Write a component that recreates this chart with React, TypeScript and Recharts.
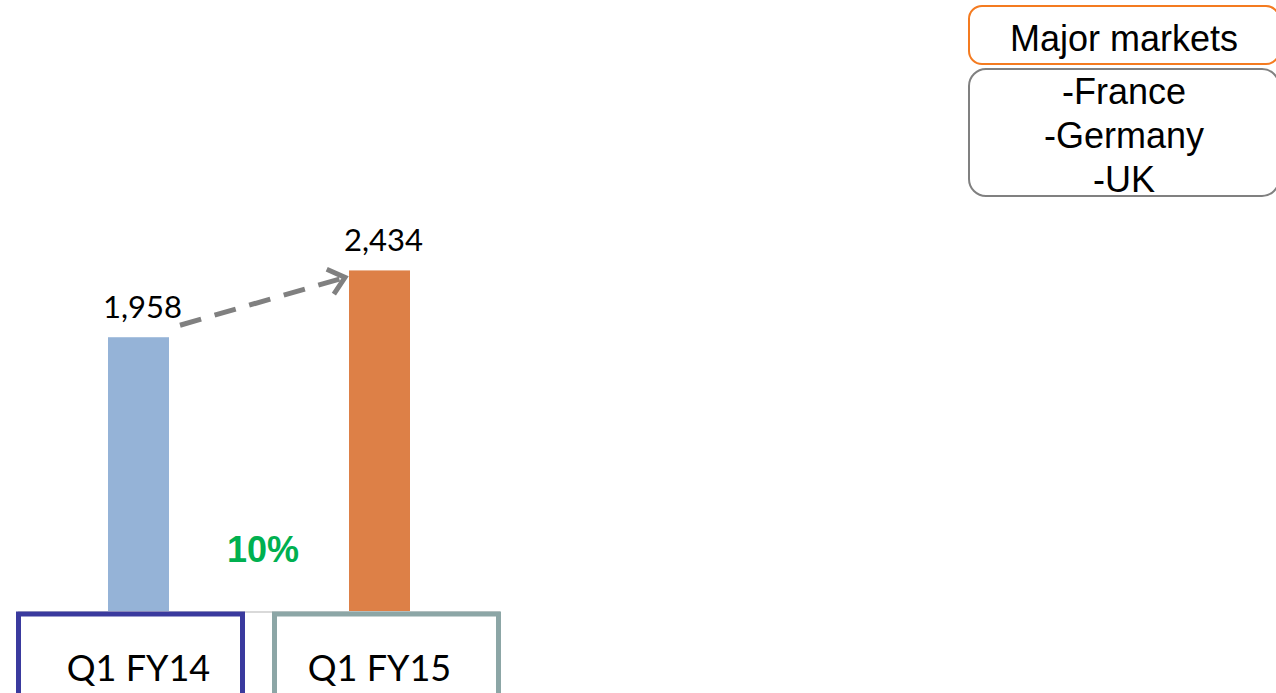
import React from "react";
import { Bar, BarChart, LabelList, XAxis, YAxis } from "recharts";

const categories = ["Q1 FY14", "Q1 FY15"];
const revenue = [1958, 2434];
const barColors = ["#95B3D7", "#DD8047"];
const boxColors = ["#3A3A9E", "#8CA6A6"];
const growthLabel = "10%";
const marketsTitle = "Major markets";
const markets = ["-France", "-Germany", "-UK"];

const rows = categories.map((name, i) => ({ name, value: revenue[i] }));

const W = 1276;
const H = 693;
const MARGIN = { top: 191, right: 776, bottom: 0, left: 18 };
const STEP = (W - MARGIN.left - MARGIN.right) / categories.length;
const CALIBRI = "Lato, 'Open Sans', sans-serif";
const ARIAL = "'Liberation Sans', Arial, sans-serif";

function fmt(v: number) {
  return v.toLocaleString("en-US");
}

function BarWithArrow(props: any) {
  const { x, y, width, height, index } = props;
  const rect = <rect x={x} y={y} width={width} height={height} fill={barColors[index]} />;
  if (index !== 1) return rect;

  // arrow from the top of the previous bar to this one
  const k = height / revenue[1];
  const base = y + height;
  const prevTop = base - revenue[0] * k;
  const prevRight = x - STEP + width;
  const x1 = prevRight + 11;
  const y1 = prevTop - 12;
  const tx = x - 4;
  const ty = y + 7;
  const ang = Math.atan2(ty - y1, tx - x1);
  const arm = 20;
  const a1 = ang + Math.PI - 0.7;
  const a2 = ang + Math.PI + 0.7;
  const lx = tx - Math.cos(ang) * 3;
  const ly = ty - Math.sin(ang) * 3;
  return (
    <g>
      {rect}
      <line x1={x1} y1={y1} x2={lx} y2={ly} stroke="#808080" strokeWidth={5} strokeDasharray="22 14" />
      <polyline
        points={`${tx + Math.cos(a1) * arm},${ty + Math.sin(a1) * arm} ${tx},${ty} ${tx + Math.cos(a2) * arm},${ty + Math.sin(a2) * arm}`}
        fill="none"
        stroke="#808080"
        strokeWidth={5}
        strokeLinejoin="miter"
      />
    </g>
  );
}

function ValueLabel(props: any) {
  const { x, y, width, value } = props;
  return (
    <text x={x + width / 2 + 4} y={y - 19} textAnchor="middle" fontFamily={CALIBRI} fontSize={31} fill="#000">
      {fmt(value)}
    </text>
  );
}

function CategoryTick(props: any) {
  const { x, y, payload, index } = props;
  const boxShift = index === 0 ? -8 : 7;
  const bw = 224;
  return (
    <g>
      <rect
        x={x + boxShift - bw / 2}
        y={y + 2}
        width={bw}
        height={100}
        fill="#fff"
        stroke={boxColors[index]}
        strokeWidth={5}
      />
      <text x={x} y={y + 69} textAnchor="middle" fontFamily={CALIBRI} fontSize={36} fill="#000">
        {payload.value}
      </text>
    </g>
  );
}

export default function App() {
  return (
    <div style={{ position: "fixed", left: 0, top: 0, width: W, height: H, overflow: "hidden", background: "#fff" }}>
      <BarChart width={W} height={H} data={rows} margin={MARGIN} barSize={61}>
        <XAxis
          dataKey="name"
          height={81}
          axisLine={{ stroke: "#D9D9D9", strokeWidth: 2 }}
          tickLine={false}
          tickSize={0}
          tickMargin={0}
          tick={<CategoryTick />}
          interval={0}
        />
        <YAxis hide domain={[0, 3000]} />
        <Bar dataKey="value" isAnimationActive={false} shape={<BarWithArrow />}>
          <LabelList dataKey="value" content={<ValueLabel />} />
        </Bar>
      </BarChart>
      <div
        style={{
          position: "absolute",
          left: 226,
          top: 528,
          width: 74,
          textAlign: "center",
          fontFamily: ARIAL,
          fontWeight: "bold",
          fontSize: 36,
          lineHeight: "44px",
          color: "#00B050",
        }}
      >
        {growthLabel}
      </div>
      <div
        style={{
          position: "absolute",
          left: 968,
          top: 5,
          width: 312,
          height: 60,
          border: "2.5px solid #F47B20",
          borderRadius: 14,
          fontFamily: ARIAL,
          fontSize: 36,
          lineHeight: "44px",
          textAlign: "center",
          paddingTop: 10,
          boxSizing: "border-box",
          color: "#000",
        }}
      >
        {marketsTitle}
      </div>
      <div
        style={{
          position: "absolute",
          left: 968,
          top: 68,
          width: 312,
          height: 129,
          border: "2.5px solid #808080",
          borderRadius: 18,
          fontFamily: ARIAL,
          fontSize: 36,
          lineHeight: "44px",
          textAlign: "center",
          boxSizing: "border-box",
          color: "#000",
        }}
      >
        {markets.map((m) => (
          <div key={m}>{m}</div>
        ))}
      </div>
    </div>
  );
}
